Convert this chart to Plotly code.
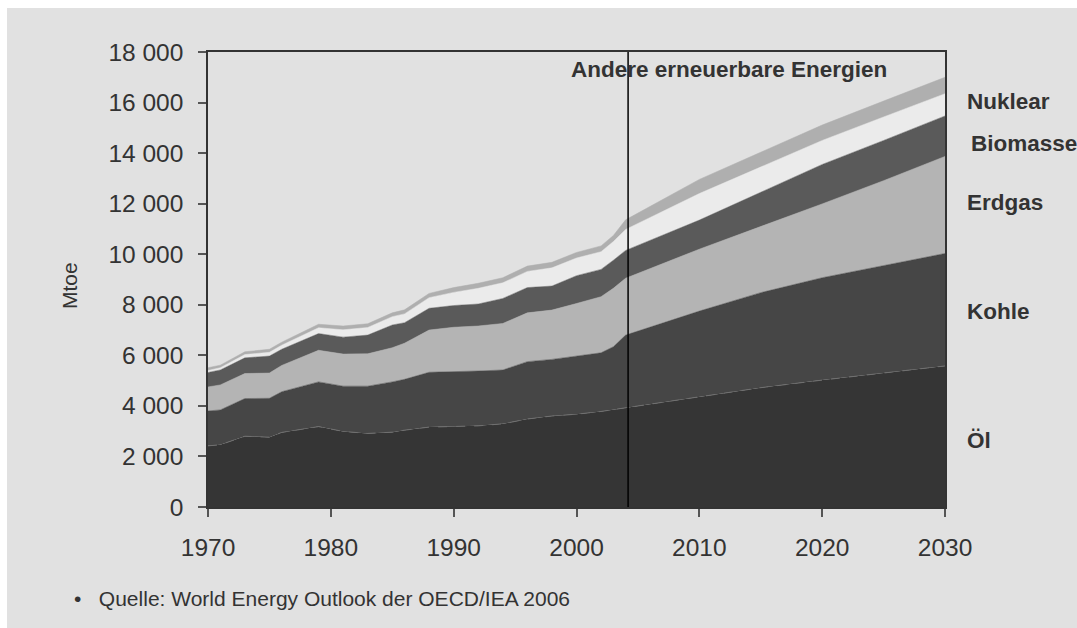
import plotly.graph_objects as go

years = [1970, 1971, 1973, 1975, 1976, 1979, 1981, 1983, 1985, 1986, 1988, 1990, 1992,
         1994, 1996, 1998, 2000, 2002, 2003, 2004, 2010, 2015, 2020, 2025, 2030]

oel = [2420, 2460, 2800, 2760, 2950, 3180, 2990, 2910, 2960, 3040, 3160, 3180, 3210,
       3290, 3480, 3600, 3670, 3780, 3850, 3930, 4370, 4720, 5020, 5300, 5580]
kohle = [1380, 1380, 1490, 1540, 1610, 1770, 1790, 1870, 1990, 2010, 2170, 2170, 2170,
         2130, 2270, 2240, 2300, 2320, 2490, 2870, 3380, 3760, 4050, 4250, 4450]
erdgas = [950, 990, 990, 1000, 1040, 1250, 1270, 1280, 1350, 1430, 1670, 1760, 1780,
          1840, 1930, 1950, 2080, 2220, 2310, 2250, 2450, 2600, 2920, 3360, 3840]
biomasse = [570, 590, 620, 670, 640, 660, 670, 740, 900, 810, 860, 860, 870,
            990, 1000, 950, 1100, 1080, 1110, 1100, 1150, 1370, 1560, 1590, 1600]
nuklear = [80, 90, 130, 150, 160, 230, 290, 300, 330, 350, 420, 520, 620,
           620, 640, 720, 700, 700, 740, 830, 1050, 1000, 950, 930, 880]
andere = [110, 100, 110, 120, 120, 140, 150, 150, 150, 160, 170, 190, 200,
          200, 210, 220, 220, 230, 240, 380, 560, 590, 610, 630, 650]

series_names = ["Öl", "Kohle", "Erdgas", "Biomasse", "Nuklear", "Andere erneuerbare Energien"]
series_values = [oel, kohle, erdgas, biomasse, nuklear, andere]
series_colors = ["#353535", "#464646", "#b4b4b4", "#5a5a5a", "#ebebeb", "#afafaf"]

right_labels = ["Nuklear", "Biomasse", "Erdgas", "Kohle", "Öl"]
right_label_y = [16050, 14400, 12050, 7750, 2650]
right_label_dx = [0, 4, 0, 0, 0]

y_ticks = list(range(0, 18001, 2000))
y_ticktext = [f"{v:,}".replace(",", " ") for v in y_ticks]
x_ticks = list(range(1970, 2031, 10))
projection_year = 2004.2

BG = "#e1e1e1"
FONT = "Liberation Sans, Arial, sans-serif"

fig = go.Figure()
for i, (name, vals, col) in enumerate(zip(series_names, series_values, series_colors)):
    if i == 0:
        line = dict(color="#707070", width=1, dash="dash")
    else:
        line = dict(color=col, width=0.5)
    fig.add_trace(go.Scatter(x=years, y=vals, name=name, stackgroup="one", mode="lines",
                             line=line, fillcolor=col, hoverinfo="x+y+name"))

W, H = 1077, 628
L, T = 208, 52
pw, ph = 737, 455
R = W - L - pw
B = H - T - ph

def px2paper_x(px):
    return (px - L) / pw

def px2paper_y(py):
    return (T + ph - py) / ph

shapes = [
    dict(type="rect", xref="paper", yref="paper", layer="below",
         x0=px2paper_x(-10), x1=px2paper_x(7), y0=px2paper_y(H + 10), y1=px2paper_y(-10),
         fillcolor="#ffffff", line=dict(width=0)),
    dict(type="rect", xref="paper", yref="paper", layer="below",
         x0=px2paper_x(-10), x1=px2paper_x(W + 10), y0=px2paper_y(8), y1=px2paper_y(-10),
         fillcolor="#ffffff", line=dict(width=0)),
    dict(type="line", xref="x", yref="y", x0=projection_year, x1=projection_year,
         y0=0, y1=18000, line=dict(color="#000000", width=1.5)),
]

annotations = [
    dict(text="<b>Andere erneuerbare Energien</b>", xref="paper", yref="paper",
         x=px2paper_x(569), y=px2paper_y(70), xanchor="left", yanchor="middle",
         showarrow=False, font=dict(family=FONT, size=22.5, color="#333333")),
    dict(text="Mtoe", xref="paper", yref="paper", x=px2paper_x(69), y=px2paper_y(286),
         textangle=-90, xanchor="center", yanchor="middle", showarrow=False,
         font=dict(family=FONT, size=21, color="#333333")),
    dict(text="•   Quelle: World Energy Outlook der OECD/IEA 2006", xref="paper", yref="paper",
         x=px2paper_x(72), y=px2paper_y(598), xanchor="left", yanchor="middle",
         showarrow=False, font=dict(family=FONT, size=21, color="#333333")),
]
for lab, yv, dx in zip(right_labels, right_label_y, right_label_dx):
    annotations.append(dict(text=f"<b>{lab}</b>", xref="paper", yref="y",
                            x=px2paper_x(965 + dx), y=yv, xanchor="left", yanchor="middle",
                            showarrow=False, font=dict(family=FONT, size=22.5, color="#333333")))

fig.update_layout(
    width=W, height=H,
    margin=dict(l=L, r=R, t=T, b=B, pad=0),
    paper_bgcolor=BG,
    plot_bgcolor="rgba(0,0,0,0)",
    showlegend=False,
    shapes=shapes,
    annotations=annotations,
    font=dict(family=FONT, color="#333333"),
    xaxis=dict(range=[1970, 2030], tickvals=x_ticks, ticks="outside", ticklen=8,
               tickcolor="#555555", tickwidth=1.5, showline=True, linecolor="#333333",
               linewidth=1.5, mirror=True, showgrid=False, zeroline=False,
               tickfont=dict(family=FONT, size=24.5, color="#333333"), ticklabelstandoff=10),
    yaxis=dict(range=[0, 18000], tickvals=y_ticks, ticktext=y_ticktext, ticks="outside",
               ticklen=8, tickcolor="#555555", tickwidth=1.5, showline=True,
               linecolor="#333333", linewidth=1.5, mirror=True, showgrid=False,
               zeroline=False, tickfont=dict(family=FONT, size=24.5, color="#333333"),
               ticklabelstandoff=10),
)

fig.write_html(
    "out.html",
    config={"displayModeBar": False},
    post_script="document.body.style.margin='0';document.documentElement.style.overflow='hidden';",
)
